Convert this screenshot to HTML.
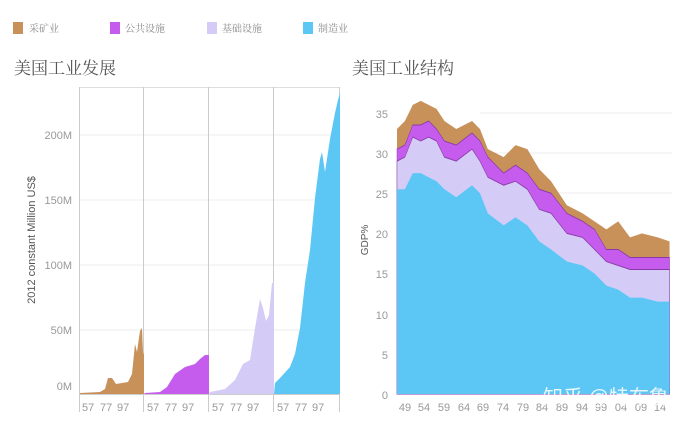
<!DOCTYPE html>
<html><head><meta charset="utf-8"><style>
body{margin:0;background:#fff;}
svg{display:block;font-family:"Liberation Sans","Noto Sans CJK SC",sans-serif;}
</style></head><body>
<svg width="690" height="426" viewBox="0 0 690 426" xmlns="http://www.w3.org/2000/svg">
<!-- legend -->
<rect x="13" y="22" width="10" height="12" fill="#c8915a"/>
<text x="29" y="32" font-size="10" fill="#888" font-family="'Noto Serif CJK SC',serif">采矿业</text>
<rect x="110" y="22" width="10" height="12" fill="#c55cee"/>
<text x="125" y="32" font-size="10" fill="#888" font-family="'Noto Serif CJK SC',serif">公共设施</text>
<rect x="207" y="22" width="10" height="12" fill="#d4ccf6"/>
<text x="222" y="32" font-size="10" fill="#888" font-family="'Noto Serif CJK SC',serif">基础设施</text>
<rect x="303" y="22" width="10" height="12" fill="#5cc6f5"/>
<text x="318" y="32" font-size="10" fill="#888" font-family="'Noto Serif CJK SC',serif">制造业</text>
<text x="14" y="74" font-size="17" fill="#555" font-family="'Noto Serif CJK SC',serif">美国工业发展</text>
<text x="352" y="74" font-size="17" fill="#555" font-family="'Noto Serif CJK SC',serif">美国工业结构</text>

<!-- LEFT CHART -->
<g stroke="#eee" stroke-width="1">
<line x1="79" y1="135" x2="340" y2="135"/><line x1="79" y1="200" x2="340" y2="200"/>
<line x1="79" y1="265" x2="340" y2="265"/><line x1="79" y1="330" x2="340" y2="330"/>
</g>
<line x1="79" y1="87.5" x2="340" y2="87.5" stroke="#ddd"/>
<g stroke="#ccc" stroke-width="1">
<line x1="79.5" y1="87" x2="79.5" y2="412"/><line x1="143.5" y1="87" x2="143.5" y2="412"/>
<line x1="208.5" y1="87" x2="208.5" y2="412"/><line x1="273.5" y1="87" x2="273.5" y2="412"/>
<line x1="339.5" y1="87" x2="339.5" y2="412"/>
</g>
<polygon fill="#c8915a" points="80,394 80,393 100,392 105,389 108,378 112,378 116,384 122,383 128,382 132,374 135,344 137,352 140,331 142,328 143,352 144,355 144,394"/>
<polygon fill="#c55cee" points="144,394 145,393 160,392 167,387 175,374 185,367 195,364 200,359 205,355 209,355 209,394"/>
<polygon fill="#d4ccf6" points="209,394 210,392 225,389 235,380 243,364 250,360 255,328 260,299 263,308 266,321 269,315 272,283 274,283 274,394"/>
<polygon fill="#5cc6f5" points="274,394 275,383 280,378 290,367 295,354 300,328 305,283 310,250 315,198 320,159 322,152 325,172 330,139 335,113 338,100 340,93 340,394"/>
<line x1="79" y1="394.5" x2="340" y2="394.5" stroke="#ccc"/>
<g font-size="11" fill="#999" text-anchor="end">
<text x="72" y="139">200M</text><text x="72" y="204">150M</text><text x="72" y="269">100M</text>
<text x="72" y="334">50M</text><text x="72" y="390">0M</text>
</g>
<text transform="translate(35,240) rotate(-90)" font-size="11" fill="#555" text-anchor="middle">2012 constant Million US$</text>
<g font-size="11" fill="#999">
<text x="82" y="411">57</text><text x="100" y="411">77</text><text x="117" y="411">97</text>
<text x="147" y="411">57</text><text x="165" y="411">77</text><text x="182" y="411">97</text>
<text x="212" y="411">57</text><text x="230" y="411">77</text><text x="247" y="411">97</text>
<text x="277" y="411">57</text><text x="295" y="411">77</text><text x="312" y="411">97</text>
</g>

<!-- RIGHT CHART -->
<g stroke="#eee"><line x1="480" y1="113" x2="672" y2="113"/><line x1="480" y1="153" x2="672" y2="153"/><line x1="480" y1="193" x2="672" y2="193"/></g>
<g transform="translate(397,394) scale(3.95,-8.03)">
<polygon fill="#c8915a" points="0,0 0,33 2,34 4,36 6,36.5 8,36 10,35.5 12,34 15,33 19,34 21,33 23,30.5 27,29.5 30,31 33,30.5 36,28 39,26.5 43,23.5 47,22.5 50,21.5 53,20.5 56,21.5 59,19.5 62,20 66,19.5 69,19 69,0"/>
<polygon fill="#c55cee" stroke="#8a3aa8" stroke-width="0.12" points="0,0 0,30.5 2,31 4,33.5 6,33.5 8,34 10,33 12,31.5 15,31 19,32.5 21,31.5 23,29.5 27,27.5 30,28.5 33,27.5 36,25.5 39,25 43,22.5 47,21.5 50,20.5 53,18 56,18 59,17 62,17 66,17 69,17 69,0"/>
<polygon fill="#d4ccf6" stroke="#8a3aa8" stroke-width="0.12" points="0,0 0,29 2,29.5 4,32 6,31.5 8,32 10,31.5 12,29.5 15,29 19,30.5 21,29 23,27 27,26 30,26.5 33,25.5 36,23 39,22.5 43,20 47,19.5 50,18 53,16.5 56,16 59,15.5 62,15.5 66,15.5 69,15.5 69,0"/>
<polygon fill="#5cc6f5" points="0,0 0,25.5 2,25.5 4,27.5 6,27.5 8,27 10,26.5 12,25.5 15,24.5 19,26 21,25 23,22.5 27,21 30,22 33,21 36,19 39,18 43,16.5 47,16 50,15 53,13.5 56,13 59,12 62,12 66,11.5 69,11.5 69,0"/>
</g>
<g font-size="11" fill="#999" text-anchor="end">
<text x="388" y="118">35</text><text x="388" y="158">30</text><text x="388" y="198">25</text>
<text x="388" y="238">20</text><text x="388" y="278">15</text><text x="388" y="319">10</text>
<text x="388" y="359">5</text><text x="388" y="399">0</text>
</g>
<text transform="translate(368,240) rotate(-90)" font-size="10" fill="#555" text-anchor="middle">GDP%</text>
<g font-size="11" fill="#999" text-anchor="middle">
<text x="405" y="411">49</text><text x="424" y="411">54</text><text x="444" y="411">59</text>
<text x="464" y="411">64</text><text x="483" y="411">69</text><text x="503" y="411">74</text>
<text x="523" y="411">79</text><text x="542" y="411">84</text><text x="562" y="411">89</text>
<text x="582" y="411">94</text><text x="601" y="411">99</text><text x="621" y="411">04</text>
<text x="641" y="411">09</text><text x="660" y="411">14</text>
</g>
<text x="543" y="404" font-size="20" fill="#fff" fill-opacity="0.85">知乎 @特布鲁</text>
</svg>
</body></html>
